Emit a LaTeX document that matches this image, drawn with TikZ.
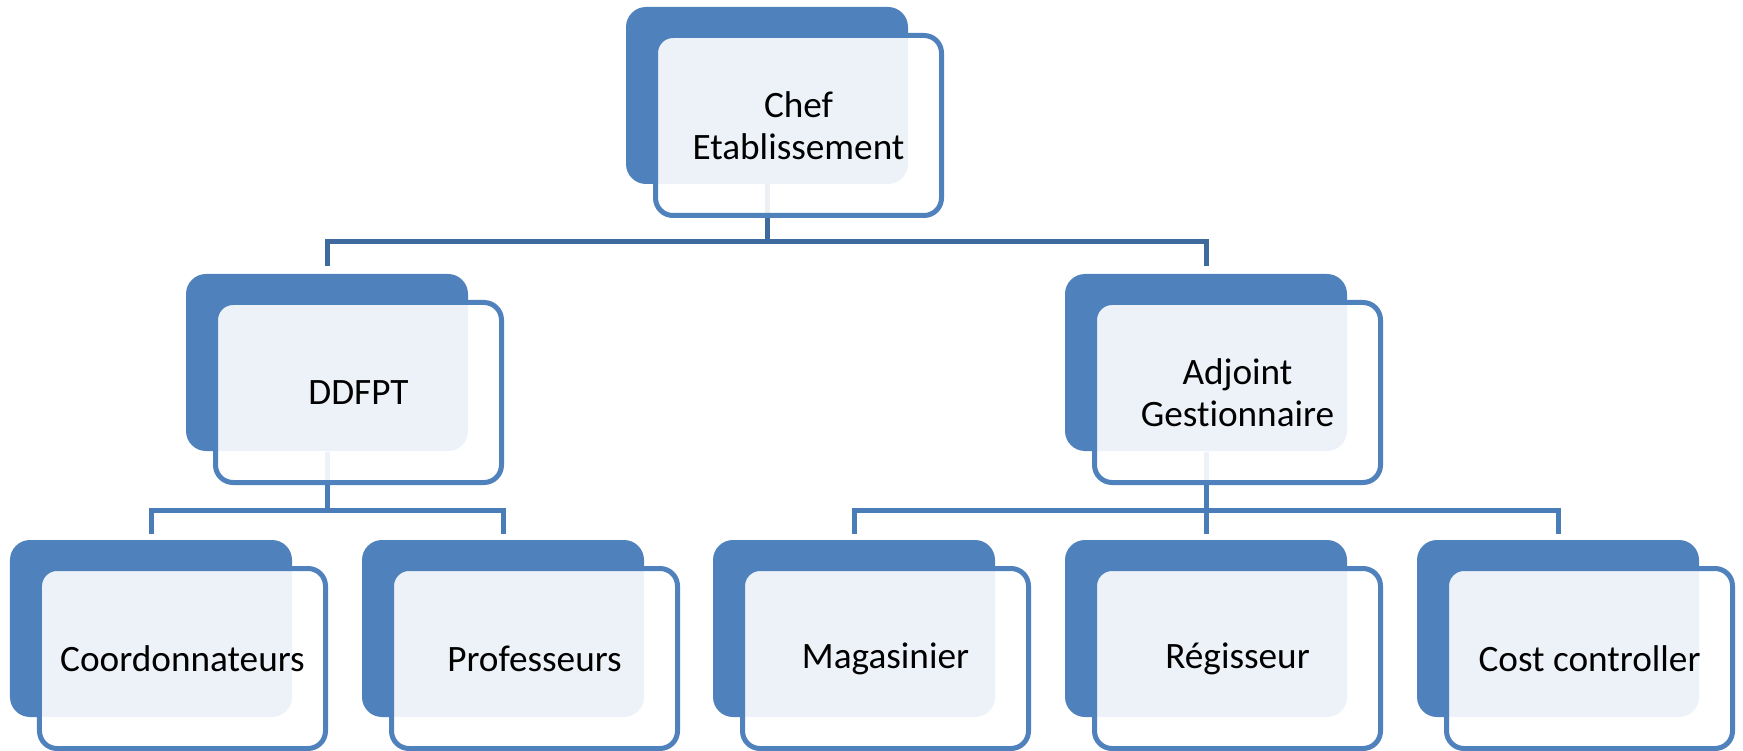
\documentclass[tikz,border=0pt]{standalone}
\usepackage{fontspec}
\setmainfont{Carlito}[Ligatures=NoCommon]
\usetikzlibrary{positioning, calc, backgrounds}
\definecolor{OBlue}{HTML}{4F81BD}
\definecolor{ODark}{HTML}{3E6A9E}
\definecolor{OLine}{HTML}{4A7CB8}

\tikzset{
  backbox/.style={rectangle, rounded corners=8pt, fill=OBlue, inner sep=0pt,
    minimum width=112.8pt, minimum height=70.8pt},
  frontbox/.style={rectangle, rounded corners=7pt, draw=OBlue, line width=2pt,
    fill=white, fill opacity=0.9, text opacity=1, draw opacity=1,
    minimum width=114.4pt, minimum height=72pt, align=center,
    font=\fontsize{14.9}{16.6}\selectfont, on grid},
  link1/.style={ODark, line width=2pt},
  link2/.style={OLine, line width=2pt},
}

\begin{document}
\begin{tikzpicture}[x=0.4pt, y=-0.4pt]
    \useasboundingbox (0,0) rectangle (1743,751);

    % Level 0
    \node[backbox] (chef) at (767, 95.5) {};
    \node[frontbox, below right=12pt and 12.6pt of chef] (chefT) {Chef\\Etablissement};

    % Level 1
    \node[backbox] (ddfpt) at (327, 362.5) {};
    \node[frontbox, below right=12pt and 12.6pt of ddfpt] (ddfptT) {DDFPT};
    \node[backbox] (adjoint) at (1206, 362.5) {};
    \node[frontbox, below right=12pt and 12.6pt of adjoint] (adjointT) {Adjoint\\Gestionnaire};

    % Level 2
    \node[backbox] (coord) at (151, 628.5) {};
    \node[frontbox, below right=12pt and 12.6pt of coord] (coordT) {Coordonnateurs};
    \node[backbox] (prof) at (503, 628.5) {};
    \node[frontbox, below right=12pt and 12.6pt of prof] (profT) {Professeurs};
    \node[backbox] (mag) at (854, 628.5) {};
    \node[frontbox, below right=12pt and 12.6pt of mag] (magT) {Magasinier};
    \node[backbox] (reg) at (1206, 628.5) {};
    \node[frontbox, below right=12pt and 12.6pt of reg] (regT) {Régisseur};
    \node[backbox] (cost) at (1558, 628.5) {};
    \node[frontbox, below right=12pt and 12.6pt of cost] (costT) {Cost controller};

    % Connectors
    \begin{scope}[on background layer]
        \draw[link1] (chef.south) -- ++(0,57) coordinate (bus1);
        \draw[link1, shorten >=2.8pt] (bus1) -| (ddfpt.north);
        \draw[link1, shorten >=2.8pt] (bus1) -| (adjoint.north);

        \draw[link2] (ddfpt.south) -- ++(0,59) coordinate (bus2);
        \draw[link2, shorten >=2.4pt] (bus2) -| (coord.north);
        \draw[link2, shorten >=2.4pt] (bus2) -| (prof.north);

        \draw[link2] (adjoint.south) -- ++(0,59) coordinate (bus3);
        \draw[link2, shorten >=2.4pt] (bus3) -| (mag.north);
        \draw[link2, shorten >=2.4pt] (bus3) -- (reg.north);
        \draw[link2, shorten >=2.4pt] (bus3) -| (cost.north);
    \end{scope}
\end{tikzpicture}
\end{document}
